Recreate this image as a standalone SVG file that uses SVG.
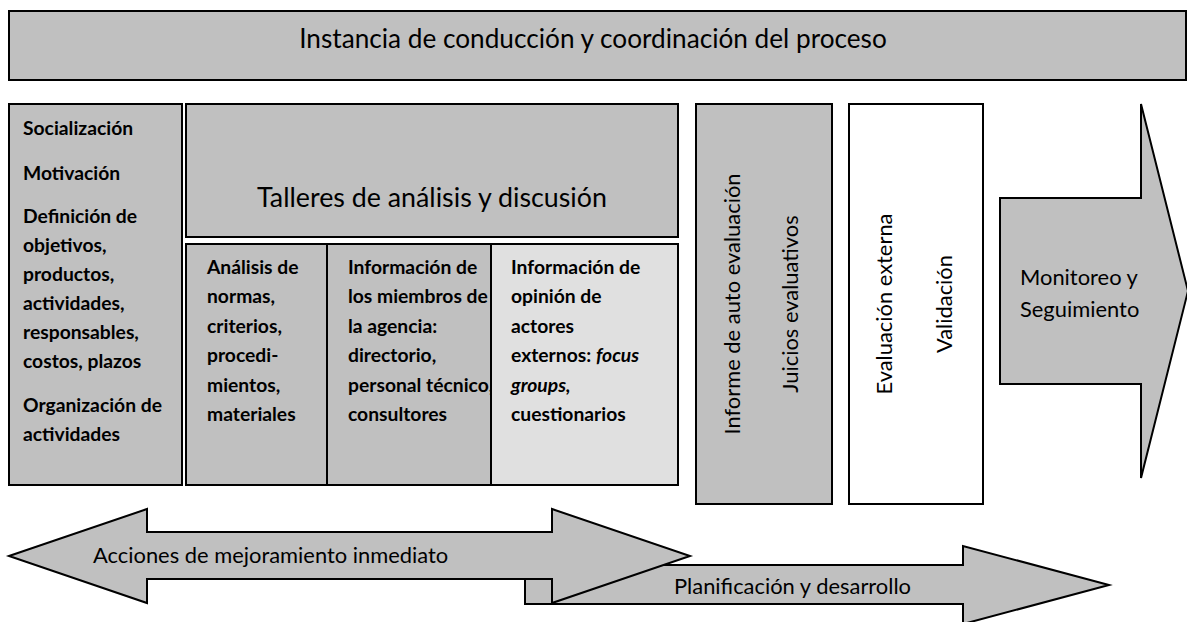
<svg xmlns="http://www.w3.org/2000/svg" width="1187" height="622" viewBox="0 0 1187 622">
<style>
.box{fill:#c0c0c0;stroke:#000;stroke-width:2}
.light{fill:#e0e0e0;stroke:#000;stroke-width:2}
.white{fill:#fff;stroke:#000;stroke-width:2}
text{font-family:Lato,"Liberation Sans",sans-serif;fill:#000}
.big{font-size:26.2px}
.mid{font-size:21.9px}
.b{font-size:19.3px;font-weight:bold}
.i{font-style:italic}
</style>
<rect width="1187" height="622" fill="#fff"/>
<g id="instancia">
<rect class="box" x="9" y="11" width="1177" height="69"/>
<text class="big" x="593" y="48" text-anchor="middle">Instancia de conducción y coordinación del proceso</text>
</g>
<g id="preparacion">
<rect class="box" x="9" y="104" width="173" height="381"/>
<text class="b" x="23">
<tspan x="23" y="135">Socialización</tspan>
<tspan x="23" y="179.5">Motivación</tspan>
<tspan x="23" y="223">Definición de</tspan>
<tspan x="23" y="252">objetivos,</tspan>
<tspan x="23" y="281">productos,</tspan>
<tspan x="23" y="310">actividades,</tspan>
<tspan x="23" y="339">responsables,</tspan>
<tspan x="23" y="368">costos, plazos</tspan>
<tspan x="23" y="412">Organización de</tspan>
<tspan x="23" y="441">actividades</tspan>
</text>
</g>
<g id="talleres">
<rect class="box" x="186" y="104" width="492" height="133"/>
<text class="big" x="432" y="207" text-anchor="middle" style="font-size:26.8px">Talleres de análisis y discusión</text>
</g>
<g id="normas">
<rect class="box" x="186" y="244" width="141" height="241"/>
<text class="b">
<tspan x="207" y="274">Análisis de</tspan>
<tspan x="207" y="303.4">normas,</tspan>
<tspan x="207" y="332.8">criterios,</tspan>
<tspan x="207" y="362.2">procedi-</tspan>
<tspan x="207" y="391.6">mientos,</tspan>
<tspan x="207" y="421">materiales</tspan>
</text>
</g>
<g id="miembros">
<rect class="box" x="327" y="244" width="164" height="241"/>
<text class="b">
<tspan x="348" y="274">Información de</tspan>
<tspan x="348" y="303.4">los miembros de</tspan>
<tspan x="348" y="332.8">la agencia:</tspan>
<tspan x="348" y="362.2">directorio,</tspan>
<tspan x="348" y="391.6">personal técnico,</tspan>
<tspan x="348" y="421">consultores</tspan>
</text>
</g>
<g id="externos">
<rect class="light" x="491" y="244" width="187" height="241"/>
<text class="b">
<tspan x="511" y="274">Información de</tspan>
<tspan x="511" y="303.4">opinión de</tspan>
<tspan x="511" y="332.8">actores</tspan>
<tspan x="511" y="362.2">externos: <tspan class="i">focus</tspan></tspan>
<tspan x="511" y="391.6" class="i">groups,</tspan>
<tspan x="511" y="421">cuestionarios</tspan>
</text>
</g>
<g id="informe">
<rect class="box" x="696" y="104" width="136" height="400"/>
<text class="mid" transform="translate(740 304) rotate(-90)" text-anchor="middle">Informe de auto evaluación</text>
<text class="mid" transform="translate(798 304) rotate(-90)" text-anchor="middle">Juicios evaluativos</text>
</g>
<g id="externa">
<rect class="white" x="849" y="104" width="134" height="400"/>
<text class="mid" transform="translate(892 304) rotate(-90)" text-anchor="middle">Evaluación externa</text>
<text class="mid" transform="translate(952 304) rotate(-90)" text-anchor="middle">Validación</text>
</g>
<g id="monitoreo">
<polygon class="box" points="1000,198 1141,198 1141,104 1188,291 1141,478 1141,384 1000,384"/>
<text class="mid"><tspan x="1020" y="285">Monitoreo y</tspan><tspan x="1020" y="317">Seguimiento</tspan></text>
</g>
<g id="connectors">
<g id="planificacion">
<polygon class="box" points="525,565 963,565 963,546 1109,585 963,624 963,604 525,604"/>
<text class="mid" x="674" y="594">Planificación y desarrollo</text>
</g>
<g id="acciones">
<polygon class="box" points="9,556 147,509 147,532 552,532 552,509 690,556 552,603 552,579 147,579 147,603"/>
<text class="mid" x="93" y="563">Acciones de mejoramiento inmediato</text>
</g>
</g>
</svg>
